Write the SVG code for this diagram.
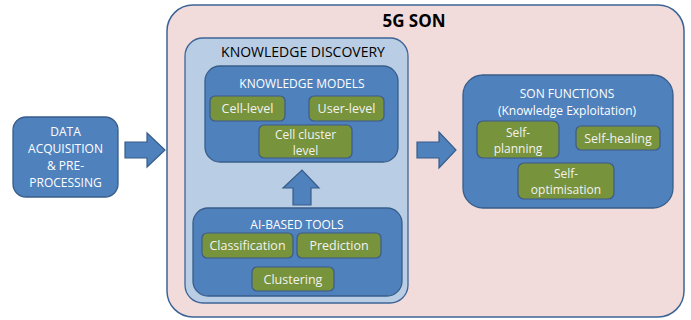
<svg xmlns="http://www.w3.org/2000/svg" width="691" height="320" viewBox="0 0 691 320">
<style>
text{font-family:"Open Sans","Liberation Sans",sans-serif;}
.blue{fill:#4F81BD;stroke:#385D8A;stroke-width:1.3;}
.green{fill:#77933C;stroke:#3E5A8A;stroke-width:1.2;}
.wt{fill:#FFFFFF;font-size:12px;text-anchor:middle;}
.gt{fill:#F2F2F2;font-size:12.5px;text-anchor:middle;}
.gt2{fill:#F2F2F2;font-size:12px;text-anchor:middle;}
.arrow{fill:#4F81BD;stroke:#385D8A;stroke-width:1.2;}
</style>
<rect width="691" height="320" fill="#FFFFFF"/>
<g id="son">
<rect x="167" y="5" width="517" height="312" rx="26" fill="#F2DCDB" stroke="#3C6496" stroke-width="1.5"/>
<text x="414" y="27" font-size="17" font-weight="bold" text-anchor="middle" fill="#000">5G SON</text>
</g>
<g id="knowledge-discovery">
<rect x="185" y="38" width="223" height="265" rx="18" fill="#B9CDE5" stroke="#3C6496" stroke-width="1.3"/>
<text x="303" y="57" font-size="14" text-anchor="middle" fill="#000">KNOWLEDGE DISCOVERY</text>
</g>
<g id="data-acquisition">
<rect x="13" y="117" width="105" height="80" rx="13" class="blue"/>
<text class="wt" x="65.5" y="136">DATA</text>
<text class="wt" x="65.5" y="153">ACQUISITION</text>
<text class="wt" x="65.5" y="170">&amp; PRE-</text>
<text class="wt" x="65.5" y="187">PROCESSING</text>
</g>
<g id="knowledge-models">
<rect x="205" y="66" width="193" height="96" rx="15" class="blue"/>
<text class="wt" x="302" y="88">KNOWLEDGE MODELS</text>
</g>
<g id="cell-level">
<rect x="210" y="96" width="75" height="25" rx="5" class="green"/>
<text class="gt" x="247.5" y="113">Cell-level</text>
</g>
<g id="user-level">
<rect x="309" y="96" width="75" height="25" rx="5" class="green"/>
<text class="gt" x="346.5" y="113">User-level</text>
</g>
<g id="cell-cluster-level">
<rect x="259" y="125" width="93" height="33" rx="5" class="green"/>
<text class="gt2" x="305.5" y="138.5">Cell cluster</text>
<text class="gt2" x="305.5" y="155">level</text>
</g>
<g id="ai-tools">
<rect x="193" y="208" width="209" height="88" rx="15" class="blue"/>
<text class="wt" x="297" y="229">AI-BASED TOOLS</text>
</g>
<g id="classification">
<rect x="202" y="233" width="91" height="25" rx="5" class="green"/>
<text class="gt" x="247.5" y="250">Classification</text>
</g>
<g id="prediction">
<rect x="297" y="233" width="84" height="25" rx="5" class="green"/>
<text class="gt" x="339" y="250">Prediction</text>
</g>
<g id="clustering">
<rect x="252" y="267" width="82" height="24" rx="5" class="green"/>
<text class="gt" x="293" y="284">Clustering</text>
</g>
<g id="son-functions">
<rect x="463" y="75" width="210" height="133" rx="20" class="blue"/>
<text class="wt" x="567" y="98">SON FUNCTIONS</text>
<text class="wt" x="567" y="115">(Knowledge Exploitation)</text>
</g>
<g id="self-planning">
<rect x="477" y="121" width="82" height="37" rx="6" class="green"/>
<text class="gt2" x="518" y="136.5">Self-</text>
<text class="gt2" x="518" y="153">planning</text>
</g>
<g id="self-healing">
<rect x="576" y="126" width="84" height="24" rx="5" class="green"/>
<text class="gt" x="618" y="143">Self-healing</text>
</g>
<g id="self-optimisation">
<rect x="518" y="163" width="96" height="36" rx="6" class="green"/>
<text class="gt2" x="566" y="177.5">Self-</text>
<text class="gt2" x="566" y="194">optimisation</text>
</g>
<g id="connectors">
<path class="arrow" d="M125,142 H147 V133 L165,150 L147,167 V158 H125 Z"/>
<path class="arrow" d="M417,142 H439 V132 L456,150 L439,168 V158 H417 Z"/>
<path class="arrow" d="M293,205 V188 H283 L302,170 L319,188 H311 V205 Z"/>
</g>
</svg>
